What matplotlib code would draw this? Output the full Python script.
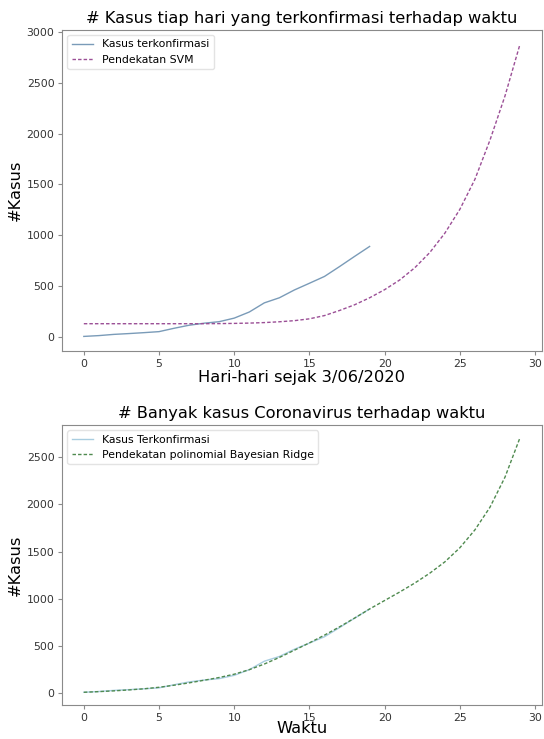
import matplotlib
matplotlib.use("Agg")
import matplotlib.pyplot as plt

# confirmed cases per day since 3/06/2020
days = list(range(20))
confirmed = [5, 13, 25, 33, 42, 52, 85, 115, 135, 150, 185, 245, 335, 385, 462, 528, 595, 692, 792, 890]

# predictions over 30 days
future_days = list(range(30))
svm_pred = [130, 130, 130, 130, 130, 130, 130, 130, 130, 131, 133, 136, 141, 149, 160,
            178, 210, 260, 316, 385, 465, 560, 680, 830, 1020, 1255, 1550, 1935, 2370, 2880]
bayes_pred = [5, 12, 20, 30, 42, 58, 80, 105, 133, 162, 197, 245, 305, 375, 452,
              530, 612, 700, 793, 890, 980, 1070, 1165, 1270, 1390, 1540, 1730, 1970, 2290, 2710]

plt.rcParams['font.family'] = 'DejaVu Sans'
plt.rcParams['axes.edgecolor'] = '#8a8a8a'
plt.rcParams['xtick.color'] = '#8a8a8a'
plt.rcParams['ytick.color'] = '#8a8a8a'
plt.rcParams['xtick.labelcolor'] = '#333333'
plt.rcParams['ytick.labelcolor'] = '#333333'

fig = plt.figure(figsize=(5.44, 7.39), dpi=100)

# top: SVM
ax1 = fig.add_axes([0.114, 0.525, 0.882, 0.435])
ax1.plot(days, confirmed, color='#7a9bb8', lw=1.0, label='Kasus terkonfirmasi')
ax1.plot(future_days, svm_pred, color='#9b4f96', lw=1.0, dashes=(2.5, 1.5), label='Pendekatan SVM')
ax1.set_title('# Kasus tiap hari yang terkonfirmasi terhadap waktu', fontsize=11.7, pad=5)
ax1.set_xlabel('Hari-hari sejak 3/06/2020', fontsize=11.7, labelpad=1)
ax1.set_ylabel('#Kasus', fontsize=11.7, labelpad=3)
ax1.set_xticks([0, 5, 10, 15, 20, 25, 30])
ax1.legend(loc='upper left', fontsize=7.8, framealpha=0.8, edgecolor='#dddddd')

# bottom: Bayesian ridge
ax2 = fig.add_axes([0.114, 0.046, 0.882, 0.379])
ax2.plot(days, confirmed, color='#a9cde0', lw=1.0, label='Kasus Terkonfirmasi')
ax2.plot(future_days, bayes_pred, color='#4f8a4f', lw=1.0, dashes=(2.5, 1.5),
         label='Pendekatan polinomial Bayesian Ridge')
ax2.set_title('# Banyak kasus Coronavirus terhadap waktu', fontsize=11.7, pad=5)
ax2.set_xlabel('Waktu', fontsize=11.7, labelpad=-1)
ax2.set_ylabel('#Kasus', fontsize=11.7, labelpad=3)
ax2.set_xticks([0, 5, 10, 15, 20, 25, 30])
ax2.legend(loc='upper left', fontsize=7.8, framealpha=0.8, edgecolor='#dddddd')

for ax in (ax1, ax2):
    ax.tick_params(labelsize=7.8, length=2.7, pad=2.7, width=0.8)
    for s in ax.spines.values():
        s.set_linewidth(0.8)

fig.savefig('out.png', dpi=100)
